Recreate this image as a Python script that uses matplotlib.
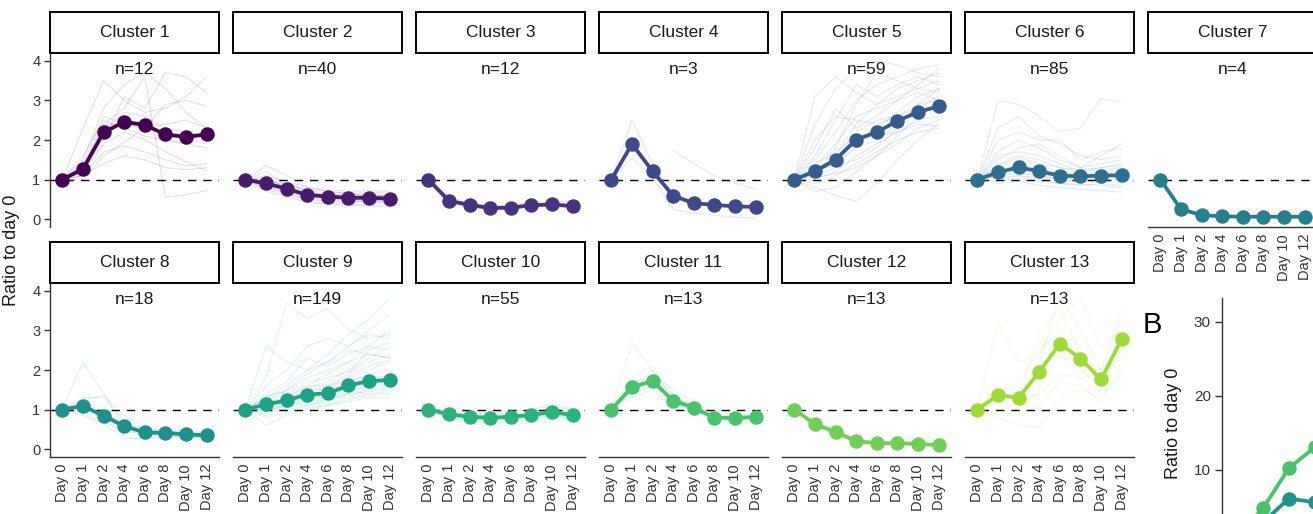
import numpy as np
import matplotlib
matplotlib.use("Agg")
import matplotlib.pyplot as plt

plt.rcParams['font.family'] = ['Liberation Sans', 'DejaVu Sans']

# ---------------------------------------------------------------- data
DAYS = ["Day 0", "Day 1", "Day 2", "Day 4", "Day 6", "Day 8", "Day 10", "Day 12"]
CLUSTER_LABELS = [f"Cluster {i}" for i in range(1, 14)]
CLUSTER_N = [12, 40, 12, 3, 59, 85, 4, 18, 149, 55, 13, 13, 13]
CLUSTER_COLORS = ["#440154", "#481B6D", "#46337E", "#3F4889", "#365C8D",
                  "#2E6E8E", "#277F8E", "#21908C", "#1FA187", "#2DB27D",
                  "#4AC16D", "#71CF57", "#A0DA39"]

MEAN_C1 = [1.0, 1.27, 2.19, 2.46, 2.38, 2.14, 2.08, 2.14]
MEAN_C2 = [1.0, 0.90, 0.77, 0.61, 0.57, 0.54, 0.54, 0.52]
MEAN_C3 = [1.0, 0.46, 0.36, 0.28, 0.29, 0.35, 0.37, 0.33]
MEAN_C4 = [1.0, 1.90, 1.21, 0.59, 0.40, 0.36, 0.32, 0.31]
MEAN_C5 = [1.0, 1.21, 1.50, 2.01, 2.20, 2.48, 2.71, 2.85]
MEAN_C6 = [1.0, 1.18, 1.31, 1.21, 1.10, 1.08, 1.10, 1.11]
MEAN_C7 = [1.0, 0.25, 0.10, 0.07, 0.06, 0.06, 0.06, 0.06]
MEAN_C8 = [1.0, 1.09, 0.84, 0.58, 0.42, 0.41, 0.37, 0.35]
MEAN_C9 = [1.0, 1.13, 1.23, 1.38, 1.41, 1.61, 1.72, 1.75]
MEAN_C10 = [1.0, 0.88, 0.82, 0.79, 0.82, 0.86, 0.94, 0.86]
MEAN_C11 = [1.0, 1.57, 1.72, 1.22, 1.05, 0.79, 0.79, 0.81]
MEAN_C12 = [1.0, 0.63, 0.43, 0.20, 0.15, 0.15, 0.13, 0.10]
MEAN_C13 = [1.0, 1.36, 1.30, 1.95, 2.67, 2.29, 1.76, 2.78]

NA = np.nan

TRACES_C1 = [
    [1, 2.3, 3.5, 3.0, 2.7, 2.8, 3.1, 3.6],
    [1, 1.5, 2.8, 3.4, 3.7, 3.3, 2.7, 2.3],
    [1, 1.3, 2.4, 2.8, 3.6, 0.55, 0.62, 0.72],
    [1, 1.2, 2.0, 3.1, 2.8, 3.7, 3.6, 3.2],
    [1, 1.4, 2.6, 2.4, 2.3, 2.9, 3.0, 2.85],
    [1, 1.1, 1.7, 1.85, 1.7, 1.5, 1.35, 1.4],
    [1, 1.2, 1.9, 2.2, 2.0, 1.7, 1.45, 1.22],
    [1, 1.3, 2.2, 2.7, 2.6, 2.3, 2.2, 2.1],
    [1, 1.6, 2.5, 2.3, 2.1, 2.0, 1.9, 2.0],
    [1, 1.0, 1.6, 1.95, 2.3, 2.4, 2.5, 2.3],
    [1, 1.1, 1.4, 1.6, 1.5, 1.3, 1.25, 1.3],
    [1, 1.3, 2.4, 2.4, 2.3, 2.0, 1.9, 1.8],
]
TRACES_C2 = [
    [1, 1.35, 1.1, 0.8, 0.7, 0.65, 0.6, 0.6],
    [1, 0.95, 0.8, 0.65, 0.6, 0.55, 0.55, 0.5],
    [1, 0.8, 0.65, 0.5, 0.45, 0.42, 0.45, 0.4],
    [1, 1.1, 0.95, 0.8, 0.75, 0.7, 0.72, 0.7],
    [1, 0.85, 0.7, 0.55, 0.5, 0.48, 0.46, 0.45],
    [1, 0.9, 0.75, 0.6, 0.55, 0.58, 0.55, 0.55],
    [1, 0.75, 0.6, 0.45, 0.4, 0.38, 0.36, 0.35],
    [1, 1.0, 0.9, 0.72, 0.65, 0.62, 0.63, 0.6],
    [1, 0.88, 0.8, 0.68, 0.62, 0.6, 0.58, 0.57],
    [1, 1.2, 0.85, 0.6, 0.52, 0.5, 0.5, 0.48],
    [1, 0.7, 0.55, 0.42, 0.38, 0.35, 0.33, 0.3],
    [1, 0.95, 0.85, 0.75, 0.7, 0.65, 0.68, 0.66],
    [1, 0.92, 0.72, 0.58, 0.55, 0.52, 0.5, 0.52],
    [1, 1.05, 0.78, 0.62, 0.6, 0.57, 0.6, 0.58],
    [1, 0.82, 0.66, 0.5, 0.47, 0.45, 0.44, 0.42],
    [1, 0.98, 0.88, 0.7, 0.58, 0.5, 0.48, 0.46],
]
TRACES_C3 = [
    [1, 0.55, 0.42, 0.33, 0.35, 0.42, 0.45, 0.42],
    [1, 0.42, 0.32, 0.24, 0.26, 0.32, 0.33, 0.3],
    [1, 0.5, 0.38, 0.3, 0.3, 0.38, 0.4, 0.35],
    [1, 0.4, 0.3, 0.22, 0.25, 0.3, 0.32, 0.28],
    [1, 0.48, 0.4, 0.28, 0.32, 0.4, 0.38, 0.36],
    [1, 0.45, 0.35, 0.25, 0.28, 0.34, 0.36, 0.32],
]
TRACES_C4 = [
    [1, 2.5, 1.4, 0.65, 0.45, 0.38, 0.3, 0.2],
    [1, 1.55, 1.05, 0.25, 0.15, 0.1, 0.05, 0.03],
    [NA, NA, NA, 1.73, 1.4, 1.1, 0.9, 0.76],
]
TRACES_C5 = [
    [1, 2.4, 3.3, 3.8, 4.0, 3.9, 3.7, 3.6],
    [1, 1.5, 2.2, 3.0, 3.4, 3.6, 3.8, 3.9],
    [1, 1.2, 1.6, 2.4, 2.9, 3.3, 3.5, 3.7],
    [1, 1.1, 1.3, 1.9, 2.3, 2.7, 3.1, 3.3],
    [1, 0.8, 0.6, 0.45, 0.9, 1.5, 2.0, 2.4],
    [1, 1.3, 1.9, 2.6, 2.8, 3.0, 3.2, 3.0],
    [1, 1.0, 1.2, 1.6, 1.9, 2.2, 2.5, 2.6],
    [1, 1.4, 1.7, 2.1, 2.2, 2.5, 2.7, 2.9],
    [1, 3.1, 3.6, 3.2, 2.9, 3.1, 3.3, 3.5],
    [1, 0.9, 1.1, 1.4, 1.7, 2.0, 2.2, 2.3],
    [1, 1.6, 2.5, 3.4, 3.1, 3.4, 3.6, 3.4],
    [1, 1.2, 1.4, 1.8, 2.0, 2.4, 2.8, 3.1],
    [1, 1.05, 1.15, 1.3, 1.6, 1.9, 2.3, 2.5],
    [1, 1.8, 2.8, 2.3, 2.6, 3.0, 3.4, 3.8],
    [1, 1.3, 1.5, 2.2, 2.5, 2.6, 2.8, 2.7],
    [1, 0.7, 0.8, 1.2, 1.6, 2.1, 2.6, 2.9],
    [1, 1.1, 1.8, 2.9, 3.7, 3.5, 3.3, 3.2],
    [1, 1.25, 1.35, 1.5, 1.8, 2.3, 2.9, 3.3],
    [1, 2.0, 2.6, 2.5, 2.4, 2.6, 2.9, 3.0],
    [1, 1.15, 1.6, 2.0, 2.1, 2.2, 2.4, 2.35],
]
TRACES_C6 = [
    [1, 3.0, 2.9, 2.6, 2.2, 2.3, 3.05, 2.95],
    [1, 2.3, 2.6, 2.1, 1.9, 1.6, 1.5, 1.6],
    [1, 1.7, 2.0, 1.8, 1.5, 1.3, 1.4, 1.5],
    [1, 1.4, 1.6, 1.5, 1.3, 1.2, 1.25, 1.3],
    [1, 1.2, 1.3, 1.2, 1.1, 1.05, 1.1, 1.1],
    [1, 1.1, 1.2, 1.1, 1.0, 0.95, 1.0, 1.0],
    [1, 0.95, 1.05, 0.95, 0.9, 0.85, 0.9, 0.85],
    [1, 0.9, 0.95, 0.85, 0.8, 0.75, 0.72, 0.68],
    [1, 1.3, 1.5, 1.35, 1.2, 1.15, 1.2, 1.25],
    [1, 1.5, 1.8, 1.9, 1.6, 1.3, 1.6, 1.9],
    [1, 1.05, 1.1, 1.05, 0.95, 0.92, 0.95, 0.9],
    [1, 1.25, 1.4, 1.3, 1.15, 1.1, 1.15, 1.2],
    [1, 2.0, 2.2, 2.0, 2.0, 1.5, 1.7, 1.8],
    [1, 1.15, 1.25, 1.15, 1.05, 1.0, 1.05, 1.05],
    [1, 0.98, 1.1, 1.0, 0.9, 0.88, 0.85, 0.8],
    [1, 1.35, 1.55, 1.4, 1.3, 1.25, 1.3, 1.4],
    [1, 1.6, 1.7, 1.6, 1.4, 1.2, 1.3, 1.35],
    [1, 1.1, 1.15, 1.1, 1.0, 1.0, 0.98, 0.95],
]
TRACES_C7 = [
    [1, 0.3, 0.13, 0.08, 0.07, 0.07, 0.07, 0.07],
    [1, 0.22, 0.08, 0.05, 0.05, 0.05, 0.05, 0.05],
    [1, 0.28, 0.12, 0.08, 0.06, 0.06, 0.06, 0.06],
    [1, 0.2, 0.07, 0.05, 0.04, 0.04, 0.04, 0.05],
]
TRACES_C8 = [
    [1, 2.2, 1.4, 0.6, 0.4, 0.35, 0.3, 0.3],
    [1, 1.3, 1.3, 0.7, 0.5, 0.45, 0.4, 0.38],
    [1, 1.2, 1.0, 0.5, 0.35, 0.35, 0.3, 0.3],
    [1, 1.1, 0.9, 0.65, 0.5, 0.5, 0.45, 0.42],
    [1, 1.0, 0.8, 0.3, 0.25, 0.3, 0.25, 0.22],
    [1, 1.25, 1.35, 0.85, 0.55, 0.45, 0.45, 0.4],
    [1, 0.9, 0.7, 0.45, 0.38, 0.38, 0.35, 0.32],
    [1, 1.05, 0.85, 0.55, 0.42, 0.4, 0.38, 0.35],
    [1, 0.85, 0.65, 0.25, 0.3, 0.32, 0.3, 0.28],
    [1, 1.15, 0.95, 0.6, 0.45, 0.42, 0.4, 0.36],
]
TRACES_C9 = [
    [1, 1.8, 3.7, 3.3, 3.55, 3.0, 2.8, 2.9],
    [1, 1.3, 1.6, 2.0, 2.4, 2.9, 3.3, 3.8],
    [1, 1.2, 1.5, 1.9, 2.2, 2.6, 3.0, 3.4],
    [1, 1.1, 1.3, 1.6, 1.9, 2.2, 2.6, 3.0],
    [1, 1.15, 1.35, 1.55, 1.7, 2.0, 2.3, 2.6],
    [1, 1.05, 1.2, 1.4, 1.5, 1.8, 2.0, 2.2],
    [1, 1.0, 1.1, 1.25, 1.35, 1.55, 1.7, 1.9],
    [1, 0.95, 1.05, 1.15, 1.2, 1.4, 1.55, 1.6],
    [1, 0.9, 1.0, 1.1, 1.15, 1.3, 1.4, 1.45],
    [1, 0.6, 0.85, 1.0, 1.1, 1.2, 1.3, 1.3],
    [1, 1.4, 1.7, 2.3, 2.1, 2.4, 2.6, 2.5],
    [1, 1.25, 1.4, 1.6, 1.6, 1.75, 1.85, 1.8],
    [1, 1.6, 2.0, 2.6, 2.8, 2.6, 2.9, 2.8],
    [1, 1.1, 1.2, 1.35, 1.45, 1.6, 1.75, 1.7],
    [1, 1.2, 1.3, 1.5, 1.5, 1.7, 1.9, 2.0],
    [1, 0.85, 0.95, 1.1, 1.25, 1.45, 1.6, 1.75],
    [1, 1.05, 1.15, 1.3, 1.3, 1.5, 1.6, 1.65],
    [1, 2.6, 2.2, 2.0, 2.2, 2.5, 2.4, 2.3],
    [1, 1.0, 1.05, 1.2, 1.3, 1.4, 1.45, 1.5],
    [1, 1.3, 1.5, 1.8, 2.0, 2.2, 2.4, 2.3],
    [1, 0.95, 1.1, 1.3, 1.35, 1.55, 1.65, 1.7],
    [1, 1.15, 1.25, 1.45, 1.55, 1.85, 2.1, 2.25],
    [1, 0.8, 0.9, 1.05, 1.1, 1.25, 1.35, 1.4],
    [1, 1.35, 1.45, 1.7, 1.8, 1.95, 2.2, 2.4],
    [1, 1.1, 1.25, 1.5, 1.6, 1.9, 2.5, 2.7],
    [1, 1.0, 1.1, 1.2, 1.25, 1.35, 1.5, 1.55],
]
TRACES_C10 = [
    [1, 1.1, 0.95, 0.9, 0.95, 1.0, 1.1, 1.0],
    [1, 0.8, 0.72, 0.65, 0.7, 0.75, 0.85, 0.78],
    [1, 0.9, 0.85, 0.8, 0.85, 0.9, 1.0, 0.92],
    [1, 0.85, 0.78, 0.72, 0.75, 0.8, 0.88, 0.82],
    [1, 0.95, 0.9, 0.88, 0.9, 0.95, 1.05, 0.98],
    [1, 0.75, 0.65, 0.58, 0.6, 0.68, 0.78, 0.7],
    [1, 0.88, 0.82, 0.78, 0.8, 0.85, 0.9, 0.85],
    [1, 0.92, 0.88, 0.85, 0.88, 0.92, 0.98, 0.9],
    [1, 0.82, 0.75, 0.7, 0.72, 0.78, 0.85, 0.8],
    [1, 0.98, 0.93, 0.92, 0.95, 0.98, 1.15, 1.02],
    [1, 0.78, 0.7, 0.62, 0.66, 0.72, 0.82, 0.75],
    [1, 0.86, 0.8, 0.76, 0.79, 0.83, 0.92, 0.86],
    [1, 0.9, 0.86, 0.82, 0.85, 0.88, 0.95, 0.88],
    [1, 0.84, 0.76, 0.74, 0.78, 0.82, 0.9, 0.84],
]
TRACES_C11 = [
    [1, 2.7, 2.0, 1.3, 1.1, 0.8, 0.75, 0.7],
    [1, 1.8, 2.1, 1.4, 1.0, 0.85, 0.8, 0.85],
    [1, 1.4, 1.6, 1.1, 1.05, 0.75, 0.8, 0.8],
    [1, 1.5, 1.9, 1.5, 1.2, 0.9, 0.85, 0.9],
    [1, 1.3, 1.5, 0.9, 1.0, 0.7, 0.72, 0.75],
    [1, 1.6, 1.7, 1.2, 0.95, 0.8, 0.78, 0.6],
    [1, 1.7, 1.8, 1.35, 1.1, 0.82, 0.8, 0.88],
    [1, 1.45, 1.55, 1.0, 1.0, 0.78, 0.8, 0.82],
    [1, 1.55, 2.0, 1.25, 1.15, 0.76, 0.74, 0.78],
]
TRACES_C12 = [
    [1, 0.7, 0.5, 0.25, 0.18, 0.17, 0.15, 0.12],
    [1, 0.58, 0.38, 0.17, 0.13, 0.13, 0.12, 0.09],
    [1, 0.65, 0.45, 0.22, 0.16, 0.15, 0.14, 0.1],
    [1, 0.55, 0.36, 0.15, 0.12, 0.12, 0.1, 0.08],
    [1, 0.68, 0.48, 0.24, 0.17, 0.16, 0.14, 0.12],
]
TRACES_C13 = [
    [1, 3.2, 2.2, 2.4, 3.3, 3.8, 2.6, 3.0],
    [1, 1.6, 1.4, 2.2, 3.9, 3.0, 2.0, 3.5],
    [1, 1.2, 1.0, 1.5, 2.4, 2.0, 1.6, 2.5],
    [1, 0.8, 0.6, 0.55, 1.2, 1.5, 1.3, 1.9],
    [1, 1.4, 1.7, 2.5, 3.0, 2.6, 1.4, 2.9],
    [1, 1.0, 1.2, 1.4, 1.9, 1.8, 1.9, 2.3],
    [1, 1.5, 1.3, 2.9, 3.6, 2.4, 2.0, 3.2],
    [1, 0.9, 0.9, 1.1, 1.7, 1.6, 1.2, 2.1],
]

# panel B (partially shown at the right edge)
B_DAYS = ["Day 0", "Day 1", "Day 2", "Day 4"]
B_SERIES_GREEN = [1.0, 4.8, 10.2, 13.0]
B_SERIES_TEAL = [1.0, 2.9, 6.1, 5.6]
B_COLOR_GREEN = "#4AC16D"
B_COLOR_TEAL = "#20928C"

MEANS = [MEAN_C1, MEAN_C2, MEAN_C3, MEAN_C4, MEAN_C5, MEAN_C6, MEAN_C7,
         MEAN_C8, MEAN_C9, MEAN_C10, MEAN_C11, MEAN_C12, MEAN_C13]
TRACES = [TRACES_C1, TRACES_C2, TRACES_C3, TRACES_C4, TRACES_C5, TRACES_C6,
          TRACES_C7, TRACES_C8, TRACES_C9, TRACES_C10, TRACES_C11,
          TRACES_C12, TRACES_C13]

# ---------------------------------------------------------------- layout
W, H = 1313, 514
fig = plt.figure(figsize=(W / 100, H / 100), dpi=100)


def px_axes(x, y, w, h):
    return fig.add_axes([x / W, 1 - (y + h) / H, w / W, h / H])


LEFT0, STEP, PW = 50, 183, 169
STRIP_TOP = [12, 242]
STRIP_H = 41
PANEL_H = 174
TEXT_COL = "#333333"
TRACE_ALPHA = 0.13

xpos = np.arange(len(DAYS))

for i, label in enumerate(CLUSTER_LABELS):
    row, col = divmod(i, 7)
    x0 = LEFT0 + STEP * col
    sy = STRIP_TOP[row]

    # strip header
    sax = px_axes(x0, sy, PW, STRIP_H)
    sax.set_xticks([])
    sax.set_yticks([])
    for sp in sax.spines.values():
        sp.set_linewidth(1.4)
        sp.set_color("black")
    sax.text(0.5, 0.5, label, ha="center", va="center", fontsize=12.5,
             color="#1a1a1a", transform=sax.transAxes)

    ax = px_axes(x0, sy + STRIP_H, PW, PANEL_H)
    color = CLUSTER_COLORS[i]

    for tr in TRACES[i]:
        ax.plot(xpos, tr, color=color, lw=0.8, alpha=TRACE_ALPHA, zorder=1)
    ax.axhline(1, color="black", lw=1.0, ls=(0, (6, 5)), zorder=2)
    ax.plot(xpos, MEANS[i], color=color, lw=2.7, marker="o", ms=9.4,
            zorder=3, solid_capstyle="round")

    ax.text(0.5, 1 - 16 / PANEL_H, f"n={CLUSTER_N[i]}", ha="center",
            va="center", fontsize=12.5, color="#1a1a1a", transform=ax.transAxes)

    ax.set_xlim(-0.6, len(DAYS) - 1 + 0.6)
    ax.set_ylim(-0.2, 4.2)
    for sp in ["top", "right"]:
        ax.spines[sp].set_visible(False)

    has_x = row == 1 or col == 6
    has_y = col == 0

    ax.spines["bottom"].set_visible(has_x)
    ax.spines["left"].set_visible(has_y)
    for sp in ["bottom", "left"]:
        ax.spines[sp].set_linewidth(1.0)
        ax.spines[sp].set_color(TEXT_COL)

    if has_x:
        ax.set_xticks(xpos)
        ax.set_xticklabels(DAYS, rotation=90, fontsize=10.5, color=TEXT_COL)
        ax.tick_params(axis="x", length=0, pad=5)
    else:
        ax.set_xticks([])
    if has_y:
        ax.set_yticks([0, 1, 2, 3, 4])
        ax.tick_params(axis="y", length=4, width=1.0, color=TEXT_COL,
                       labelsize=10.5, labelcolor=TEXT_COL, pad=3)
    else:
        ax.set_yticks([])
    ax.patch.set_alpha(0)

fig.text(12 / W, 1 - 250 / H, "Ratio to day 0", rotation=90, ha="center",
         va="center", fontsize=13, color="#1a1a1a")

# ---------------------------------------------------------------- panel B
bax = px_axes(1222, 298, 220, 262)
bx = np.arange(len(B_DAYS))
bax.plot(bx, B_SERIES_TEAL, color=B_COLOR_TEAL, lw=2.7, marker="o", ms=9.4,
         zorder=3)
bax.plot(bx, B_SERIES_GREEN, color=B_COLOR_GREEN, lw=2.7, marker="o", ms=9.4,
         zorder=3)
bax.set_xlim(-0.6, -0.6 + 220 / 25.7)
bax.set_ylim(33.2 - 262 / 7.4, 33.2)
bax.set_yticks([10, 20, 30])
bax.set_xticks([])
for sp in ["top", "right", "bottom"]:
    bax.spines[sp].set_visible(False)
bax.spines["left"].set_linewidth(1.0)
bax.spines["left"].set_color(TEXT_COL)
bax.tick_params(axis="y", length=5, width=1.0, color=TEXT_COL,
                labelsize=11, labelcolor=TEXT_COL, pad=3)
bax.patch.set_alpha(0)
fig.text(1174 / W, 1 - 423 / H, "Ratio to day 0", rotation=90, ha="center",
         va="center", fontsize=13, color="#1a1a1a")
fig.text(1152 / W, 1 - 325 / H, "B", ha="center", va="center", fontsize=21,
         color="black")

fig.savefig("out.png", dpi=100)
